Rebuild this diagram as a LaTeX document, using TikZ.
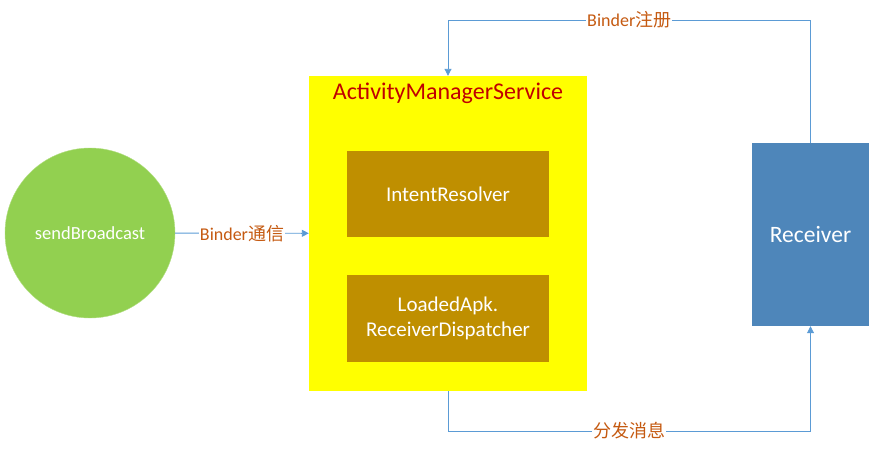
\documentclass[tikz,border=0pt]{standalone}
\usepackage{fontspec}
\setmainfont{Carlito}
\newfontfamily\cjk{Noto Sans CJK SC}
\usepackage{tikz}
\usetikzlibrary{
  arrows.meta,
  positioning,
  calc
}
\definecolor{bcSender}{HTML}{92D050}
\definecolor{bcAMS}{HTML}{FFFF00}
\definecolor{bcInner}{HTML}{BF8F00}
\definecolor{bcRecv}{HTML}{4E86BA}
\definecolor{bcLink}{HTML}{5B9BD5}
\definecolor{bcLabel}{HTML}{C55A11}
\definecolor{bcTitle}{HTML}{C00000}

\tikzset{
  sender/.style={circle, fill=bcSender, draw=bcSender!70!white, minimum size=170pt, text=white, font=\fontsize{18.5}{22}\selectfont},
  amsbox/.style={rectangle, fill=bcAMS, minimum width=278pt, minimum height=315pt},
  innerbox/.style={rectangle, fill=bcInner, minimum width=202pt, minimum height=86pt, text=white, align=center, font=\fontsize{21}{25}\selectfont},
  recvbox/.style={rectangle, fill=bcRecv, minimum width=117pt, minimum height=183pt, text=white, font=\fontsize{23.5}{28}\selectfont},
  link/.style={draw=bcLink, line width=0.9pt, -{Triangle[length=7pt,width=7pt]}},
  lbl/.style={fill=white, inner sep=1pt, text=bcLabel, font=\fontsize{18}{21}\selectfont}
}

\begin{document}
\begin{tikzpicture}[x=1pt, y=-1pt]
  \useasboundingbox (0,0) rectangle (878,450);

  % boxes
  \node[sender] (send) at (90,233) {sendBroadcast};
  \node[amsbox] (ams) at (448,233.5) {};
  \node[text=bcTitle, font=\fontsize{24}{28}\selectfont] (amstitle) at (448,93) {ActivityManagerService};
  \node[innerbox] (resolver) at (448,194) {IntentResolver};
  \node[innerbox, minimum height=87pt] (dispatcher) at (448,318.5) {LoadedApk.\\ReceiverDispatcher};
  \node[recvbox] (recv) at (810.5,234.5) {Receiver};

  % connectors
  \draw[link] (send) -- node[lbl] {Binder{\cjk 通信}} (ams);
  \draw[link] (recv.north) -- (recv.north |- 0,20)
    -- node[lbl] {Binder{\cjk 注册}} (ams.north |- 0,20) -- (ams.north);
  \draw[link] (ams.south) -- (ams.south |- 0,431)
    -- node[lbl] {\cjk 分发消息} (recv.south |- 0,431) -- (recv.south);
\end{tikzpicture}
\end{document}
